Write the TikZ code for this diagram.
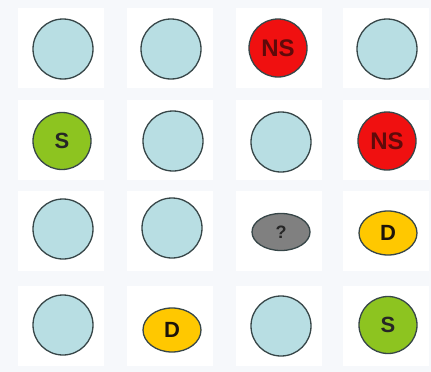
\documentclass[tikz,border=0pt]{standalone}
\usepackage{fontspec}
\setmainfont{Liberation Sans}
\usepackage{xcolor}
\definecolor{pagegrey}{RGB}{246, 248, 251}
\definecolor{emptyblue}{RGB}{184, 222, 227}
\definecolor{rimgrey}{RGB}{55, 70, 72}
\definecolor{nsred}{RGB}{240, 16, 16}
\definecolor{nstext}{RGB}{95, 10, 10}
\definecolor{sgreen}{RGB}{141, 196, 32}
\definecolor{dyellow}{RGB}{255, 200, 0}
\definecolor{qgrey}{RGB}{128, 128, 128}
\usetikzlibrary{shapes.geometric, positioning}

\begin{document}
\begin{tikzpicture}[x=1pt, y=-1pt,
        spot/.style={ellipse, draw=rimgrey, line width=1.3pt, inner sep=0pt, minimum width=60pt, minimum height=60pt, fill=emptyblue},
        nsspot/.style={spot, fill=nsred, minimum width=58pt, minimum height=58pt, text=nstext, font=\fontsize{24}{24}\selectfont\bfseries},
        sspot/.style={spot, fill=sgreen, minimum width=58pt, minimum height=57pt, text=black!85, font=\fontsize{22}{22}\selectfont\bfseries},
        dspot/.style={spot, fill=dyellow, minimum width=58pt, minimum height=44pt, text=black!85!brown, font=\fontsize{22}{22}\selectfont\bfseries},
        qspot/.style={spot, fill=qgrey, minimum width=58pt, minimum height=37pt, text=black!85, font=\fontsize{18}{18}\selectfont\bfseries},
        tile/.style={fill=white, draw=none, minimum width=86pt, minimum height=80pt}]

        % page and white tiles
        \fill[pagegrey] (0,0) rectangle (431,372);
        \useasboundingbox (0,0) rectangle (431,372);
        \foreach \x in {61, 170, 279, 386}
            \foreach \y in {48, 140, 231, 326}
                \node [tile] at (\x,\y) {};

        % row 1
        \node [spot] (a1) at (63,49) {};
        \node [spot] (b1) at (171,49) {};
        \node [nsspot] (c1) at (278,48) {NS};
        \node [spot] (d1) at (387,49) {};

        % row 2
        \node [sspot] (a2) at (62,141) {S};
        \node [spot] (b2) at (173,141) {};
        \node [spot] (c2) at (281,142) {};
        \node [nsspot] (d2) at (387,141) {NS};

        % row 3
        \node [spot] (a3) at (63,229) {};
        \node [spot] (b3) at (172,228) {};
        \node [qspot] (c3) at (281,232) {?};
        \node [dspot] (d3) at (388,233) {D};

        % row 4
        \node [spot] (a4) at (63,325) {};
        \node [dspot] (b4) at (172,330) {D};
        \node [spot] (c4) at (281,326) {};
        \node [sspot] (d4) at (388,325) {S};
\end{tikzpicture}
\end{document}
